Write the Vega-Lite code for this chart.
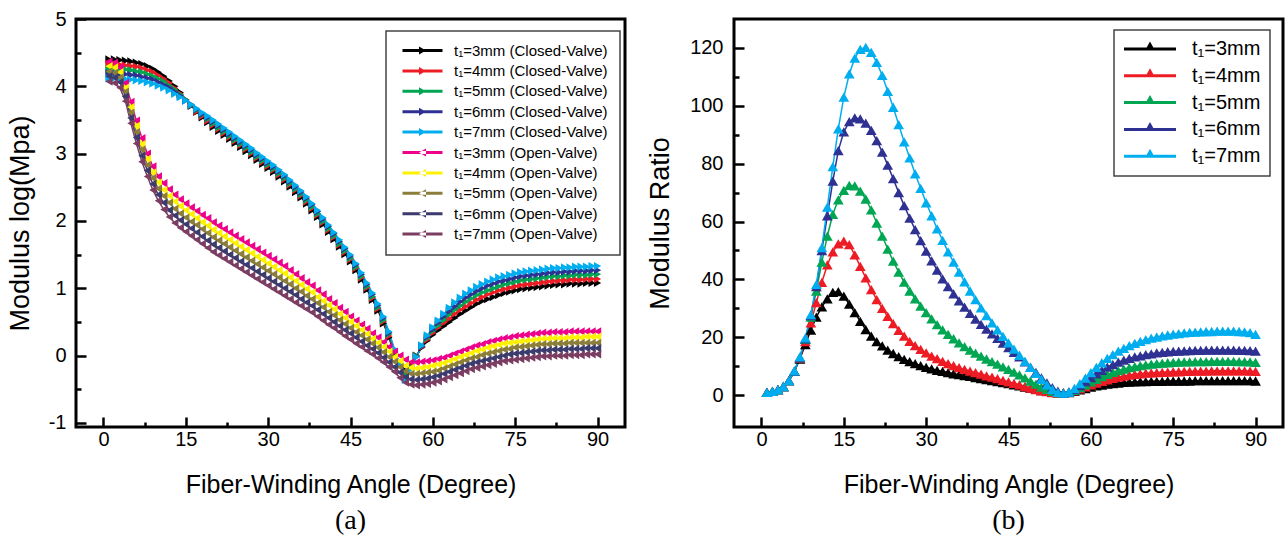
{
"$schema":"https://vega.github.io/schema/vega-lite/v6.json",
"padding":{"left":4,"top":7,"right":0,"bottom":0},
"spacing":18,
"resolve":{"scale":{"color":"independent","stroke":"independent","shape":"independent"},"legend":{"color":"independent","stroke":"independent","shape":"independent"}},
"config":{
 "view":{"stroke":"black","strokeWidth":3},
 "font":"Liberation Sans",
 "axis":{"domain":false,"grid":false,"labelColor":"black","titleColor":"black","tickColor":"black","tickWidth":2.5,"labelFont":"Liberation Sans","titleFont":"Liberation Sans","labelFontSize":20,"titleFontWeight":"normal","labelFlush":false,"labelOverlap":false},
 "title":{"font":"Liberation Serif","fontSize":28,"fontWeight":"normal","color":"black"}
},
"datasets":{
"a":[
{"x":1,"s":"c3","y":4.40},{"x":2,"s":"c3","y":4.40},{"x":3,"s":"c3","y":4.39},{"x":4,"s":"c3","y":4.38},{"x":5,"s":"c3","y":4.37},{"x":6,"s":"c3","y":4.35},{"x":7,"s":"c3","y":4.33},{"x":8,"s":"c3","y":4.30},{"x":9,"s":"c3","y":4.26},{"x":10,"s":"c3","y":4.21},
{"x":11,"s":"c3","y":4.15},{"x":12,"s":"c3","y":4.08},{"x":13,"s":"c3","y":4.00},{"x":14,"s":"c3","y":3.91},{"x":15,"s":"c3","y":3.80},{"x":16,"s":"c3","y":3.71},{"x":17,"s":"c3","y":3.62},{"x":18,"s":"c3","y":3.54},{"x":19,"s":"c3","y":3.47},{"x":20,"s":"c3","y":3.40},
{"x":21,"s":"c3","y":3.34},{"x":22,"s":"c3","y":3.28},{"x":23,"s":"c3","y":3.22},{"x":24,"s":"c3","y":3.16},{"x":25,"s":"c3","y":3.10},{"x":26,"s":"c3","y":3.04},{"x":27,"s":"c3","y":2.98},{"x":28,"s":"c3","y":2.91},{"x":29,"s":"c3","y":2.85},{"x":30,"s":"c3","y":2.79},
{"x":31,"s":"c3","y":2.73},{"x":32,"s":"c3","y":2.66},{"x":33,"s":"c3","y":2.59},{"x":34,"s":"c3","y":2.51},{"x":35,"s":"c3","y":2.43},{"x":36,"s":"c3","y":2.35},{"x":37,"s":"c3","y":2.26},{"x":38,"s":"c3","y":2.16},{"x":39,"s":"c3","y":2.06},{"x":40,"s":"c3","y":1.95},
{"x":41,"s":"c3","y":1.84},{"x":42,"s":"c3","y":1.73},{"x":43,"s":"c3","y":1.62},{"x":44,"s":"c3","y":1.51},{"x":45,"s":"c3","y":1.40},{"x":46,"s":"c3","y":1.27},{"x":47,"s":"c3","y":1.13},{"x":48,"s":"c3","y":0.98},{"x":49,"s":"c3","y":0.83},{"x":50,"s":"c3","y":0.67},
{"x":51,"s":"c3","y":0.48},{"x":52,"s":"c3","y":0.27},{"x":53,"s":"c3","y":0.03},{"x":54,"s":"c3","y":-0.14},{"x":55,"s":"c3","y":-0.22},{"x":56,"s":"c3","y":-0.16},{"x":57,"s":"c3","y":0.00},{"x":58,"s":"c3","y":0.12},{"x":59,"s":"c3","y":0.22},{"x":60,"s":"c3","y":0.31},
{"x":61,"s":"c3","y":0.38},{"x":62,"s":"c3","y":0.44},{"x":63,"s":"c3","y":0.50},{"x":64,"s":"c3","y":0.56},{"x":65,"s":"c3","y":0.62},{"x":66,"s":"c3","y":0.67},{"x":67,"s":"c3","y":0.72},{"x":68,"s":"c3","y":0.77},{"x":69,"s":"c3","y":0.81},{"x":70,"s":"c3","y":0.84},
{"x":71,"s":"c3","y":0.87},{"x":72,"s":"c3","y":0.90},{"x":73,"s":"c3","y":0.93},{"x":74,"s":"c3","y":0.95},{"x":75,"s":"c3","y":0.97},{"x":76,"s":"c3","y":0.99},{"x":77,"s":"c3","y":1.00},{"x":78,"s":"c3","y":1.01},{"x":79,"s":"c3","y":1.02},{"x":80,"s":"c3","y":1.03},
{"x":81,"s":"c3","y":1.04},{"x":82,"s":"c3","y":1.05},{"x":83,"s":"c3","y":1.06},{"x":84,"s":"c3","y":1.06},{"x":85,"s":"c3","y":1.07},{"x":86,"s":"c3","y":1.07},{"x":87,"s":"c3","y":1.07},{"x":88,"s":"c3","y":1.08},{"x":89,"s":"c3","y":1.08},{"x":90,"s":"c3","y":1.08},
{"x":1,"s":"c4","y":4.33},{"x":2,"s":"c4","y":4.33},{"x":3,"s":"c4","y":4.32},{"x":4,"s":"c4","y":4.31},{"x":5,"s":"c4","y":4.30},{"x":6,"s":"c4","y":4.29},{"x":7,"s":"c4","y":4.27},{"x":8,"s":"c4","y":4.24},{"x":9,"s":"c4","y":4.21},{"x":10,"s":"c4","y":4.16},
{"x":11,"s":"c4","y":4.11},{"x":12,"s":"c4","y":4.05},{"x":13,"s":"c4","y":3.97},{"x":14,"s":"c4","y":3.89},{"x":15,"s":"c4","y":3.80},{"x":16,"s":"c4","y":3.72},{"x":17,"s":"c4","y":3.63},{"x":18,"s":"c4","y":3.56},{"x":19,"s":"c4","y":3.49},{"x":20,"s":"c4","y":3.43},
{"x":21,"s":"c4","y":3.37},{"x":22,"s":"c4","y":3.31},{"x":23,"s":"c4","y":3.25},{"x":24,"s":"c4","y":3.19},{"x":25,"s":"c4","y":3.13},{"x":26,"s":"c4","y":3.07},{"x":27,"s":"c4","y":3.01},{"x":28,"s":"c4","y":2.94},{"x":29,"s":"c4","y":2.88},{"x":30,"s":"c4","y":2.82},
{"x":31,"s":"c4","y":2.76},{"x":32,"s":"c4","y":2.69},{"x":33,"s":"c4","y":2.62},{"x":34,"s":"c4","y":2.54},{"x":35,"s":"c4","y":2.46},{"x":36,"s":"c4","y":2.38},{"x":37,"s":"c4","y":2.29},{"x":38,"s":"c4","y":2.19},{"x":39,"s":"c4","y":2.09},{"x":40,"s":"c4","y":1.98},
{"x":41,"s":"c4","y":1.87},{"x":42,"s":"c4","y":1.76},{"x":43,"s":"c4","y":1.65},{"x":44,"s":"c4","y":1.54},{"x":45,"s":"c4","y":1.43},{"x":46,"s":"c4","y":1.30},{"x":47,"s":"c4","y":1.16},{"x":48,"s":"c4","y":1.01},{"x":49,"s":"c4","y":0.86},{"x":50,"s":"c4","y":0.70},
{"x":51,"s":"c4","y":0.51},{"x":52,"s":"c4","y":0.29},{"x":53,"s":"c4","y":0.05},{"x":54,"s":"c4","y":-0.14},{"x":55,"s":"c4","y":-0.26},{"x":56,"s":"c4","y":-0.17},{"x":57,"s":"c4","y":-0.01},{"x":58,"s":"c4","y":0.13},{"x":59,"s":"c4","y":0.24},{"x":60,"s":"c4","y":0.34},
{"x":61,"s":"c4","y":0.42},{"x":62,"s":"c4","y":0.49},{"x":63,"s":"c4","y":0.55},{"x":64,"s":"c4","y":0.62},{"x":65,"s":"c4","y":0.68},{"x":66,"s":"c4","y":0.73},{"x":67,"s":"c4","y":0.78},{"x":68,"s":"c4","y":0.83},{"x":69,"s":"c4","y":0.87},{"x":70,"s":"c4","y":0.91},
{"x":71,"s":"c4","y":0.94},{"x":72,"s":"c4","y":0.97},{"x":73,"s":"c4","y":0.99},{"x":74,"s":"c4","y":1.01},{"x":75,"s":"c4","y":1.03},{"x":76,"s":"c4","y":1.05},{"x":77,"s":"c4","y":1.06},{"x":78,"s":"c4","y":1.07},{"x":79,"s":"c4","y":1.08},{"x":80,"s":"c4","y":1.09},
{"x":81,"s":"c4","y":1.10},{"x":82,"s":"c4","y":1.11},{"x":83,"s":"c4","y":1.12},{"x":84,"s":"c4","y":1.12},{"x":85,"s":"c4","y":1.13},{"x":86,"s":"c4","y":1.13},{"x":87,"s":"c4","y":1.13},{"x":88,"s":"c4","y":1.14},{"x":89,"s":"c4","y":1.14},{"x":90,"s":"c4","y":1.14},
{"x":1,"s":"c5","y":4.26},{"x":2,"s":"c5","y":4.26},{"x":3,"s":"c5","y":4.25},{"x":4,"s":"c5","y":4.25},{"x":5,"s":"c5","y":4.24},{"x":6,"s":"c5","y":4.22},{"x":7,"s":"c5","y":4.21},{"x":8,"s":"c5","y":4.18},{"x":9,"s":"c5","y":4.15},{"x":10,"s":"c5","y":4.11},
{"x":11,"s":"c5","y":4.07},{"x":12,"s":"c5","y":4.01},{"x":13,"s":"c5","y":3.95},{"x":14,"s":"c5","y":3.88},{"x":15,"s":"c5","y":3.80},{"x":16,"s":"c5","y":3.72},{"x":17,"s":"c5","y":3.65},{"x":18,"s":"c5","y":3.58},{"x":19,"s":"c5","y":3.52},{"x":20,"s":"c5","y":3.45},
{"x":21,"s":"c5","y":3.39},{"x":22,"s":"c5","y":3.33},{"x":23,"s":"c5","y":3.27},{"x":24,"s":"c5","y":3.21},{"x":25,"s":"c5","y":3.15},{"x":26,"s":"c5","y":3.09},{"x":27,"s":"c5","y":3.03},{"x":28,"s":"c5","y":2.96},{"x":29,"s":"c5","y":2.90},{"x":30,"s":"c5","y":2.84},
{"x":31,"s":"c5","y":2.78},{"x":32,"s":"c5","y":2.71},{"x":33,"s":"c5","y":2.64},{"x":34,"s":"c5","y":2.56},{"x":35,"s":"c5","y":2.48},{"x":36,"s":"c5","y":2.40},{"x":37,"s":"c5","y":2.31},{"x":38,"s":"c5","y":2.21},{"x":39,"s":"c5","y":2.11},{"x":40,"s":"c5","y":2.00},
{"x":41,"s":"c5","y":1.89},{"x":42,"s":"c5","y":1.78},{"x":43,"s":"c5","y":1.67},{"x":44,"s":"c5","y":1.56},{"x":45,"s":"c5","y":1.45},{"x":46,"s":"c5","y":1.32},{"x":47,"s":"c5","y":1.18},{"x":48,"s":"c5","y":1.03},{"x":49,"s":"c5","y":0.88},{"x":50,"s":"c5","y":0.72},
{"x":51,"s":"c5","y":0.53},{"x":52,"s":"c5","y":0.32},{"x":53,"s":"c5","y":0.07},{"x":54,"s":"c5","y":-0.14},{"x":55,"s":"c5","y":-0.29},{"x":56,"s":"c5","y":-0.18},{"x":57,"s":"c5","y":-0.01},{"x":58,"s":"c5","y":0.14},{"x":59,"s":"c5","y":0.26},{"x":60,"s":"c5","y":0.37},
{"x":61,"s":"c5","y":0.45},{"x":62,"s":"c5","y":0.53},{"x":63,"s":"c5","y":0.61},{"x":64,"s":"c5","y":0.68},{"x":65,"s":"c5","y":0.74},{"x":66,"s":"c5","y":0.80},{"x":67,"s":"c5","y":0.85},{"x":68,"s":"c5","y":0.90},{"x":69,"s":"c5","y":0.94},{"x":70,"s":"c5","y":0.97},
{"x":71,"s":"c5","y":1.00},{"x":72,"s":"c5","y":1.03},{"x":73,"s":"c5","y":1.06},{"x":74,"s":"c5","y":1.08},{"x":75,"s":"c5","y":1.10},{"x":76,"s":"c5","y":1.12},{"x":77,"s":"c5","y":1.13},{"x":78,"s":"c5","y":1.14},{"x":79,"s":"c5","y":1.15},{"x":80,"s":"c5","y":1.16},
{"x":81,"s":"c5","y":1.17},{"x":82,"s":"c5","y":1.18},{"x":83,"s":"c5","y":1.18},{"x":84,"s":"c5","y":1.19},{"x":85,"s":"c5","y":1.19},{"x":86,"s":"c5","y":1.20},{"x":87,"s":"c5","y":1.20},{"x":88,"s":"c5","y":1.20},{"x":89,"s":"c5","y":1.21},{"x":90,"s":"c5","y":1.21},
{"x":1,"s":"c6","y":4.19},{"x":2,"s":"c6","y":4.19},{"x":3,"s":"c6","y":4.18},{"x":4,"s":"c6","y":4.18},{"x":5,"s":"c6","y":4.17},{"x":6,"s":"c6","y":4.16},{"x":7,"s":"c6","y":4.14},{"x":8,"s":"c6","y":4.12},{"x":9,"s":"c6","y":4.10},{"x":10,"s":"c6","y":4.06},
{"x":11,"s":"c6","y":4.02},{"x":12,"s":"c6","y":3.98},{"x":13,"s":"c6","y":3.92},{"x":14,"s":"c6","y":3.86},{"x":15,"s":"c6","y":3.79},{"x":16,"s":"c6","y":3.73},{"x":17,"s":"c6","y":3.66},{"x":18,"s":"c6","y":3.59},{"x":19,"s":"c6","y":3.54},{"x":20,"s":"c6","y":3.48},
{"x":21,"s":"c6","y":3.42},{"x":22,"s":"c6","y":3.36},{"x":23,"s":"c6","y":3.30},{"x":24,"s":"c6","y":3.24},{"x":25,"s":"c6","y":3.18},{"x":26,"s":"c6","y":3.12},{"x":27,"s":"c6","y":3.06},{"x":28,"s":"c6","y":2.99},{"x":29,"s":"c6","y":2.93},{"x":30,"s":"c6","y":2.87},
{"x":31,"s":"c6","y":2.81},{"x":32,"s":"c6","y":2.74},{"x":33,"s":"c6","y":2.67},{"x":34,"s":"c6","y":2.59},{"x":35,"s":"c6","y":2.51},{"x":36,"s":"c6","y":2.43},{"x":37,"s":"c6","y":2.34},{"x":38,"s":"c6","y":2.24},{"x":39,"s":"c6","y":2.14},{"x":40,"s":"c6","y":2.03},
{"x":41,"s":"c6","y":1.92},{"x":42,"s":"c6","y":1.81},{"x":43,"s":"c6","y":1.70},{"x":44,"s":"c6","y":1.59},{"x":45,"s":"c6","y":1.48},{"x":46,"s":"c6","y":1.35},{"x":47,"s":"c6","y":1.21},{"x":48,"s":"c6","y":1.06},{"x":49,"s":"c6","y":0.91},{"x":50,"s":"c6","y":0.75},
{"x":51,"s":"c6","y":0.56},{"x":52,"s":"c6","y":0.34},{"x":53,"s":"c6","y":0.08},{"x":54,"s":"c6","y":-0.14},{"x":55,"s":"c6","y":-0.33},{"x":56,"s":"c6","y":-0.19},{"x":57,"s":"c6","y":-0.02},{"x":58,"s":"c6","y":0.14},{"x":59,"s":"c6","y":0.28},{"x":60,"s":"c6","y":0.39},
{"x":61,"s":"c6","y":0.49},{"x":62,"s":"c6","y":0.58},{"x":63,"s":"c6","y":0.66},{"x":64,"s":"c6","y":0.73},{"x":65,"s":"c6","y":0.80},{"x":66,"s":"c6","y":0.86},{"x":67,"s":"c6","y":0.91},{"x":68,"s":"c6","y":0.96},{"x":69,"s":"c6","y":1.00},{"x":70,"s":"c6","y":1.04},
{"x":71,"s":"c6","y":1.07},{"x":72,"s":"c6","y":1.10},{"x":73,"s":"c6","y":1.12},{"x":74,"s":"c6","y":1.14},{"x":75,"s":"c6","y":1.16},{"x":76,"s":"c6","y":1.18},{"x":77,"s":"c6","y":1.19},{"x":78,"s":"c6","y":1.20},{"x":79,"s":"c6","y":1.21},{"x":80,"s":"c6","y":1.22},
{"x":81,"s":"c6","y":1.23},{"x":82,"s":"c6","y":1.24},{"x":83,"s":"c6","y":1.24},{"x":84,"s":"c6","y":1.25},{"x":85,"s":"c6","y":1.25},{"x":86,"s":"c6","y":1.26},{"x":87,"s":"c6","y":1.26},{"x":88,"s":"c6","y":1.26},{"x":89,"s":"c6","y":1.27},{"x":90,"s":"c6","y":1.27},
{"x":1,"s":"c7","y":4.12},{"x":2,"s":"c7","y":4.12},{"x":3,"s":"c7","y":4.11},{"x":4,"s":"c7","y":4.11},{"x":5,"s":"c7","y":4.10},{"x":6,"s":"c7","y":4.09},{"x":7,"s":"c7","y":4.08},{"x":8,"s":"c7","y":4.06},{"x":9,"s":"c7","y":4.04},{"x":10,"s":"c7","y":4.01},
{"x":11,"s":"c7","y":3.98},{"x":12,"s":"c7","y":3.94},{"x":13,"s":"c7","y":3.89},{"x":14,"s":"c7","y":3.84},{"x":15,"s":"c7","y":3.79},{"x":16,"s":"c7","y":3.73},{"x":17,"s":"c7","y":3.67},{"x":18,"s":"c7","y":3.61},{"x":19,"s":"c7","y":3.56},{"x":20,"s":"c7","y":3.50},
{"x":21,"s":"c7","y":3.44},{"x":22,"s":"c7","y":3.38},{"x":23,"s":"c7","y":3.32},{"x":24,"s":"c7","y":3.26},{"x":25,"s":"c7","y":3.20},{"x":26,"s":"c7","y":3.14},{"x":27,"s":"c7","y":3.08},{"x":28,"s":"c7","y":3.01},{"x":29,"s":"c7","y":2.95},{"x":30,"s":"c7","y":2.89},
{"x":31,"s":"c7","y":2.83},{"x":32,"s":"c7","y":2.76},{"x":33,"s":"c7","y":2.69},{"x":34,"s":"c7","y":2.61},{"x":35,"s":"c7","y":2.53},{"x":36,"s":"c7","y":2.45},{"x":37,"s":"c7","y":2.36},{"x":38,"s":"c7","y":2.26},{"x":39,"s":"c7","y":2.16},{"x":40,"s":"c7","y":2.05},
{"x":41,"s":"c7","y":1.94},{"x":42,"s":"c7","y":1.83},{"x":43,"s":"c7","y":1.72},{"x":44,"s":"c7","y":1.61},{"x":45,"s":"c7","y":1.50},{"x":46,"s":"c7","y":1.37},{"x":47,"s":"c7","y":1.23},{"x":48,"s":"c7","y":1.08},{"x":49,"s":"c7","y":0.93},{"x":50,"s":"c7","y":0.77},
{"x":51,"s":"c7","y":0.58},{"x":52,"s":"c7","y":0.36},{"x":53,"s":"c7","y":0.10},{"x":54,"s":"c7","y":-0.14},{"x":55,"s":"c7","y":-0.36},{"x":56,"s":"c7","y":-0.20},{"x":57,"s":"c7","y":-0.02},{"x":58,"s":"c7","y":0.15},{"x":59,"s":"c7","y":0.30},{"x":60,"s":"c7","y":0.42},
{"x":61,"s":"c7","y":0.52},{"x":62,"s":"c7","y":0.62},{"x":63,"s":"c7","y":0.71},{"x":64,"s":"c7","y":0.79},{"x":65,"s":"c7","y":0.86},{"x":66,"s":"c7","y":0.92},{"x":67,"s":"c7","y":0.97},{"x":68,"s":"c7","y":1.02},{"x":69,"s":"c7","y":1.06},{"x":70,"s":"c7","y":1.10},
{"x":71,"s":"c7","y":1.13},{"x":72,"s":"c7","y":1.16},{"x":73,"s":"c7","y":1.18},{"x":74,"s":"c7","y":1.20},{"x":75,"s":"c7","y":1.22},{"x":76,"s":"c7","y":1.24},{"x":77,"s":"c7","y":1.25},{"x":78,"s":"c7","y":1.26},{"x":79,"s":"c7","y":1.27},{"x":80,"s":"c7","y":1.28},
{"x":81,"s":"c7","y":1.29},{"x":82,"s":"c7","y":1.30},{"x":83,"s":"c7","y":1.30},{"x":84,"s":"c7","y":1.31},{"x":85,"s":"c7","y":1.31},{"x":86,"s":"c7","y":1.32},{"x":87,"s":"c7","y":1.32},{"x":88,"s":"c7","y":1.32},{"x":89,"s":"c7","y":1.33},{"x":90,"s":"c7","y":1.33},
{"x":1,"s":"o3","y":4.37},{"x":2,"s":"o3","y":4.35},{"x":3,"s":"o3","y":4.28},{"x":4,"s":"o3","y":4.05},{"x":5,"s":"o3","y":3.77},{"x":6,"s":"o3","y":3.49},{"x":7,"s":"o3","y":3.23},{"x":8,"s":"o3","y":3.00},{"x":9,"s":"o3","y":2.81},{"x":10,"s":"o3","y":2.66},
{"x":11,"s":"o3","y":2.56},{"x":12,"s":"o3","y":2.47},{"x":13,"s":"o3","y":2.39},{"x":14,"s":"o3","y":2.32},{"x":15,"s":"o3","y":2.26},{"x":16,"s":"o3","y":2.20},{"x":17,"s":"o3","y":2.15},{"x":18,"s":"o3","y":2.09},{"x":19,"s":"o3","y":2.04},{"x":20,"s":"o3","y":1.98},
{"x":21,"s":"o3","y":1.93},{"x":22,"s":"o3","y":1.88},{"x":23,"s":"o3","y":1.83},{"x":24,"s":"o3","y":1.78},{"x":25,"s":"o3","y":1.73},{"x":26,"s":"o3","y":1.68},{"x":27,"s":"o3","y":1.63},{"x":28,"s":"o3","y":1.58},{"x":29,"s":"o3","y":1.53},{"x":30,"s":"o3","y":1.48},
{"x":31,"s":"o3","y":1.43},{"x":32,"s":"o3","y":1.38},{"x":33,"s":"o3","y":1.33},{"x":34,"s":"o3","y":1.27},{"x":35,"s":"o3","y":1.21},{"x":36,"s":"o3","y":1.15},{"x":37,"s":"o3","y":1.09},{"x":38,"s":"o3","y":1.04},{"x":39,"s":"o3","y":0.97},{"x":40,"s":"o3","y":0.91},
{"x":41,"s":"o3","y":0.84},{"x":42,"s":"o3","y":0.78},{"x":43,"s":"o3","y":0.71},{"x":44,"s":"o3","y":0.65},{"x":45,"s":"o3","y":0.58},{"x":46,"s":"o3","y":0.52},{"x":47,"s":"o3","y":0.46},{"x":48,"s":"o3","y":0.40},{"x":49,"s":"o3","y":0.33},{"x":50,"s":"o3","y":0.27},
{"x":51,"s":"o3","y":0.20},{"x":52,"s":"o3","y":0.13},{"x":53,"s":"o3","y":0.06},{"x":54,"s":"o3","y":0.00},{"x":55,"s":"o3","y":-0.06},{"x":56,"s":"o3","y":-0.10},{"x":57,"s":"o3","y":-0.10},{"x":58,"s":"o3","y":-0.09},{"x":59,"s":"o3","y":-0.08},{"x":60,"s":"o3","y":-0.07},
{"x":61,"s":"o3","y":-0.05},{"x":62,"s":"o3","y":-0.03},{"x":63,"s":"o3","y":0.00},{"x":64,"s":"o3","y":0.03},{"x":65,"s":"o3","y":0.06},{"x":66,"s":"o3","y":0.09},{"x":67,"s":"o3","y":0.12},{"x":68,"s":"o3","y":0.15},{"x":69,"s":"o3","y":0.17},{"x":70,"s":"o3","y":0.20},
{"x":71,"s":"o3","y":0.22},{"x":72,"s":"o3","y":0.24},{"x":73,"s":"o3","y":0.26},{"x":74,"s":"o3","y":0.27},{"x":75,"s":"o3","y":0.29},{"x":76,"s":"o3","y":0.30},{"x":77,"s":"o3","y":0.31},{"x":78,"s":"o3","y":0.32},{"x":79,"s":"o3","y":0.33},{"x":80,"s":"o3","y":0.34},
{"x":81,"s":"o3","y":0.34},{"x":82,"s":"o3","y":0.35},{"x":83,"s":"o3","y":0.35},{"x":84,"s":"o3","y":0.35},{"x":85,"s":"o3","y":0.36},{"x":86,"s":"o3","y":0.36},{"x":87,"s":"o3","y":0.36},{"x":88,"s":"o3","y":0.36},{"x":89,"s":"o3","y":0.36},{"x":90,"s":"o3","y":0.36},
{"x":1,"s":"o4","y":4.30},{"x":2,"s":"o4","y":4.28},{"x":3,"s":"o4","y":4.21},{"x":4,"s":"o4","y":3.98},{"x":5,"s":"o4","y":3.69},{"x":6,"s":"o4","y":3.41},{"x":7,"s":"o4","y":3.14},{"x":8,"s":"o4","y":2.92},{"x":9,"s":"o4","y":2.72},{"x":10,"s":"o4","y":2.57},
{"x":11,"s":"o4","y":2.46},{"x":12,"s":"o4","y":2.37},{"x":13,"s":"o4","y":2.29},{"x":14,"s":"o4","y":2.22},{"x":15,"s":"o4","y":2.16},{"x":16,"s":"o4","y":2.10},{"x":17,"s":"o4","y":2.04},{"x":18,"s":"o4","y":1.98},{"x":19,"s":"o4","y":1.93},{"x":20,"s":"o4","y":1.87},
{"x":21,"s":"o4","y":1.82},{"x":22,"s":"o4","y":1.77},{"x":23,"s":"o4","y":1.72},{"x":24,"s":"o4","y":1.67},{"x":25,"s":"o4","y":1.62},{"x":26,"s":"o4","y":1.57},{"x":27,"s":"o4","y":1.52},{"x":28,"s":"o4","y":1.47},{"x":29,"s":"o4","y":1.42},{"x":30,"s":"o4","y":1.37},
{"x":31,"s":"o4","y":1.32},{"x":32,"s":"o4","y":1.27},{"x":33,"s":"o4","y":1.22},{"x":34,"s":"o4","y":1.16},{"x":35,"s":"o4","y":1.11},{"x":36,"s":"o4","y":1.05},{"x":37,"s":"o4","y":0.99},{"x":38,"s":"o4","y":0.94},{"x":39,"s":"o4","y":0.87},{"x":40,"s":"o4","y":0.81},
{"x":41,"s":"o4","y":0.75},{"x":42,"s":"o4","y":0.69},{"x":43,"s":"o4","y":0.62},{"x":44,"s":"o4","y":0.56},{"x":45,"s":"o4","y":0.50},{"x":46,"s":"o4","y":0.44},{"x":47,"s":"o4","y":0.38},{"x":48,"s":"o4","y":0.32},{"x":49,"s":"o4","y":0.25},{"x":50,"s":"o4","y":0.19},
{"x":51,"s":"o4","y":0.13},{"x":52,"s":"o4","y":0.06},{"x":53,"s":"o4","y":-0.02},{"x":54,"s":"o4","y":-0.08},{"x":55,"s":"o4","y":-0.15},{"x":56,"s":"o4","y":-0.18},{"x":57,"s":"o4","y":-0.19},{"x":58,"s":"o4","y":-0.18},{"x":59,"s":"o4","y":-0.17},{"x":60,"s":"o4","y":-0.15},
{"x":61,"s":"o4","y":-0.13},{"x":62,"s":"o4","y":-0.11},{"x":63,"s":"o4","y":-0.08},{"x":64,"s":"o4","y":-0.05},{"x":65,"s":"o4","y":-0.02},{"x":66,"s":"o4","y":0.01},{"x":67,"s":"o4","y":0.04},{"x":68,"s":"o4","y":0.07},{"x":69,"s":"o4","y":0.09},{"x":70,"s":"o4","y":0.12},
{"x":71,"s":"o4","y":0.14},{"x":72,"s":"o4","y":0.16},{"x":73,"s":"o4","y":0.18},{"x":74,"s":"o4","y":0.19},{"x":75,"s":"o4","y":0.20},{"x":76,"s":"o4","y":0.21},{"x":77,"s":"o4","y":0.22},{"x":78,"s":"o4","y":0.23},{"x":79,"s":"o4","y":0.24},{"x":80,"s":"o4","y":0.25},
{"x":81,"s":"o4","y":0.25},{"x":82,"s":"o4","y":0.26},{"x":83,"s":"o4","y":0.26},{"x":84,"s":"o4","y":0.26},{"x":85,"s":"o4","y":0.27},{"x":86,"s":"o4","y":0.27},{"x":87,"s":"o4","y":0.27},{"x":88,"s":"o4","y":0.28},{"x":89,"s":"o4","y":0.28},{"x":90,"s":"o4","y":0.28},
{"x":1,"s":"o5","y":4.22},{"x":2,"s":"o5","y":4.20},{"x":3,"s":"o5","y":4.13},{"x":4,"s":"o5","y":3.92},{"x":5,"s":"o5","y":3.61},{"x":6,"s":"o5","y":3.32},{"x":7,"s":"o5","y":3.06},{"x":8,"s":"o5","y":2.83},{"x":9,"s":"o5","y":2.64},{"x":10,"s":"o5","y":2.48},
{"x":11,"s":"o5","y":2.37},{"x":12,"s":"o5","y":2.27},{"x":13,"s":"o5","y":2.18},{"x":14,"s":"o5","y":2.11},{"x":15,"s":"o5","y":2.05},{"x":16,"s":"o5","y":1.99},{"x":17,"s":"o5","y":1.94},{"x":18,"s":"o5","y":1.88},{"x":19,"s":"o5","y":1.82},{"x":20,"s":"o5","y":1.76},
{"x":21,"s":"o5","y":1.71},{"x":22,"s":"o5","y":1.66},{"x":23,"s":"o5","y":1.61},{"x":24,"s":"o5","y":1.56},{"x":25,"s":"o5","y":1.51},{"x":26,"s":"o5","y":1.46},{"x":27,"s":"o5","y":1.41},{"x":28,"s":"o5","y":1.36},{"x":29,"s":"o5","y":1.31},{"x":30,"s":"o5","y":1.26},
{"x":31,"s":"o5","y":1.21},{"x":32,"s":"o5","y":1.16},{"x":33,"s":"o5","y":1.11},{"x":34,"s":"o5","y":1.06},{"x":35,"s":"o5","y":1.00},{"x":36,"s":"o5","y":0.95},{"x":37,"s":"o5","y":0.89},{"x":38,"s":"o5","y":0.84},{"x":39,"s":"o5","y":0.78},{"x":40,"s":"o5","y":0.72},
{"x":41,"s":"o5","y":0.65},{"x":42,"s":"o5","y":0.60},{"x":43,"s":"o5","y":0.53},{"x":44,"s":"o5","y":0.47},{"x":45,"s":"o5","y":0.41},{"x":46,"s":"o5","y":0.35},{"x":47,"s":"o5","y":0.30},{"x":48,"s":"o5","y":0.24},{"x":49,"s":"o5","y":0.18},{"x":50,"s":"o5","y":0.12},
{"x":51,"s":"o5","y":0.05},{"x":52,"s":"o5","y":-0.02},{"x":53,"s":"o5","y":-0.09},{"x":54,"s":"o5","y":-0.17},{"x":55,"s":"o5","y":-0.23},{"x":56,"s":"o5","y":-0.27},{"x":57,"s":"o5","y":-0.27},{"x":58,"s":"o5","y":-0.26},{"x":59,"s":"o5","y":-0.25},{"x":60,"s":"o5","y":-0.24},
{"x":61,"s":"o5","y":-0.22},{"x":62,"s":"o5","y":-0.19},{"x":63,"s":"o5","y":-0.16},{"x":64,"s":"o5","y":-0.13},{"x":65,"s":"o5","y":-0.10},{"x":66,"s":"o5","y":-0.07},{"x":67,"s":"o5","y":-0.04},{"x":68,"s":"o5","y":-0.02},{"x":69,"s":"o5","y":0.01},{"x":70,"s":"o5","y":0.03},
{"x":71,"s":"o5","y":0.05},{"x":72,"s":"o5","y":0.07},{"x":73,"s":"o5","y":0.09},{"x":74,"s":"o5","y":0.10},{"x":75,"s":"o5","y":0.12},{"x":76,"s":"o5","y":0.13},{"x":77,"s":"o5","y":0.14},{"x":78,"s":"o5","y":0.15},{"x":79,"s":"o5","y":0.16},{"x":80,"s":"o5","y":0.17},
{"x":81,"s":"o5","y":0.17},{"x":82,"s":"o5","y":0.18},{"x":83,"s":"o5","y":0.18},{"x":84,"s":"o5","y":0.18},{"x":85,"s":"o5","y":0.19},{"x":86,"s":"o5","y":0.19},{"x":87,"s":"o5","y":0.19},{"x":88,"s":"o5","y":0.19},{"x":89,"s":"o5","y":0.19},{"x":90,"s":"o5","y":0.19},
{"x":1,"s":"o6","y":4.15},{"x":2,"s":"o6","y":4.13},{"x":3,"s":"o6","y":4.06},{"x":4,"s":"o6","y":3.85},{"x":5,"s":"o6","y":3.53},{"x":6,"s":"o6","y":3.24},{"x":7,"s":"o6","y":2.97},{"x":8,"s":"o6","y":2.75},{"x":9,"s":"o6","y":2.55},{"x":10,"s":"o6","y":2.39},
{"x":11,"s":"o6","y":2.27},{"x":12,"s":"o6","y":2.16},{"x":13,"s":"o6","y":2.08},{"x":14,"s":"o6","y":2.01},{"x":15,"s":"o6","y":1.95},{"x":16,"s":"o6","y":1.89},{"x":17,"s":"o6","y":1.83},{"x":18,"s":"o6","y":1.77},{"x":19,"s":"o6","y":1.71},{"x":20,"s":"o6","y":1.65},
{"x":21,"s":"o6","y":1.60},{"x":22,"s":"o6","y":1.55},{"x":23,"s":"o6","y":1.50},{"x":24,"s":"o6","y":1.45},{"x":25,"s":"o6","y":1.40},{"x":26,"s":"o6","y":1.35},{"x":27,"s":"o6","y":1.30},{"x":28,"s":"o6","y":1.25},{"x":29,"s":"o6","y":1.20},{"x":30,"s":"o6","y":1.15},
{"x":31,"s":"o6","y":1.10},{"x":32,"s":"o6","y":1.05},{"x":33,"s":"o6","y":1.00},{"x":34,"s":"o6","y":0.95},{"x":35,"s":"o6","y":0.90},{"x":36,"s":"o6","y":0.84},{"x":37,"s":"o6","y":0.79},{"x":38,"s":"o6","y":0.74},{"x":39,"s":"o6","y":0.68},{"x":40,"s":"o6","y":0.62},
{"x":41,"s":"o6","y":0.56},{"x":42,"s":"o6","y":0.50},{"x":43,"s":"o6","y":0.44},{"x":44,"s":"o6","y":0.38},{"x":45,"s":"o6","y":0.33},{"x":46,"s":"o6","y":0.27},{"x":47,"s":"o6","y":0.21},{"x":48,"s":"o6","y":0.15},{"x":49,"s":"o6","y":0.10},{"x":50,"s":"o6","y":0.04},
{"x":51,"s":"o6","y":-0.03},{"x":52,"s":"o6","y":-0.10},{"x":53,"s":"o6","y":-0.17},{"x":54,"s":"o6","y":-0.25},{"x":55,"s":"o6","y":-0.32},{"x":56,"s":"o6","y":-0.35},{"x":57,"s":"o6","y":-0.36},{"x":58,"s":"o6","y":-0.35},{"x":59,"s":"o6","y":-0.34},{"x":60,"s":"o6","y":-0.32},
{"x":61,"s":"o6","y":-0.30},{"x":62,"s":"o6","y":-0.27},{"x":63,"s":"o6","y":-0.24},{"x":64,"s":"o6","y":-0.21},{"x":65,"s":"o6","y":-0.18},{"x":66,"s":"o6","y":-0.15},{"x":67,"s":"o6","y":-0.12},{"x":68,"s":"o6","y":-0.10},{"x":69,"s":"o6","y":-0.08},{"x":70,"s":"o6","y":-0.06},
{"x":71,"s":"o6","y":-0.04},{"x":72,"s":"o6","y":-0.02},{"x":73,"s":"o6","y":0.00},{"x":74,"s":"o6","y":0.02},{"x":75,"s":"o6","y":0.03},{"x":76,"s":"o6","y":0.04},{"x":77,"s":"o6","y":0.05},{"x":78,"s":"o6","y":0.06},{"x":79,"s":"o6","y":0.07},{"x":80,"s":"o6","y":0.08},
{"x":81,"s":"o6","y":0.08},{"x":82,"s":"o6","y":0.09},{"x":83,"s":"o6","y":0.09},{"x":84,"s":"o6","y":0.09},{"x":85,"s":"o6","y":0.10},{"x":86,"s":"o6","y":0.10},{"x":87,"s":"o6","y":0.10},{"x":88,"s":"o6","y":0.11},{"x":89,"s":"o6","y":0.11},{"x":90,"s":"o6","y":0.11},
{"x":1,"s":"o7","y":4.07},{"x":2,"s":"o7","y":4.05},{"x":3,"s":"o7","y":3.98},{"x":4,"s":"o7","y":3.78},{"x":5,"s":"o7","y":3.45},{"x":6,"s":"o7","y":3.15},{"x":7,"s":"o7","y":2.88},{"x":8,"s":"o7","y":2.66},{"x":9,"s":"o7","y":2.46},{"x":10,"s":"o7","y":2.30},
{"x":11,"s":"o7","y":2.17},{"x":12,"s":"o7","y":2.06},{"x":13,"s":"o7","y":1.97},{"x":14,"s":"o7","y":1.90},{"x":15,"s":"o7","y":1.84},{"x":16,"s":"o7","y":1.78},{"x":17,"s":"o7","y":1.72},{"x":18,"s":"o7","y":1.66},{"x":19,"s":"o7","y":1.60},{"x":20,"s":"o7","y":1.54},
{"x":21,"s":"o7","y":1.49},{"x":22,"s":"o7","y":1.44},{"x":23,"s":"o7","y":1.39},{"x":24,"s":"o7","y":1.34},{"x":25,"s":"o7","y":1.29},{"x":26,"s":"o7","y":1.24},{"x":27,"s":"o7","y":1.19},{"x":28,"s":"o7","y":1.14},{"x":29,"s":"o7","y":1.09},{"x":30,"s":"o7","y":1.04},
{"x":31,"s":"o7","y":0.99},{"x":32,"s":"o7","y":0.94},{"x":33,"s":"o7","y":0.89},{"x":34,"s":"o7","y":0.84},{"x":35,"s":"o7","y":0.79},{"x":36,"s":"o7","y":0.74},{"x":37,"s":"o7","y":0.69},{"x":38,"s":"o7","y":0.64},{"x":39,"s":"o7","y":0.58},{"x":40,"s":"o7","y":0.52},
{"x":41,"s":"o7","y":0.46},{"x":42,"s":"o7","y":0.41},{"x":43,"s":"o7","y":0.35},{"x":44,"s":"o7","y":0.29},{"x":45,"s":"o7","y":0.24},{"x":46,"s":"o7","y":0.18},{"x":47,"s":"o7","y":0.13},{"x":48,"s":"o7","y":0.07},{"x":49,"s":"o7","y":0.02},{"x":50,"s":"o7","y":-0.04},
{"x":51,"s":"o7","y":-0.10},{"x":52,"s":"o7","y":-0.17},{"x":53,"s":"o7","y":-0.24},{"x":54,"s":"o7","y":-0.33},{"x":55,"s":"o7","y":-0.40},{"x":56,"s":"o7","y":-0.43},{"x":57,"s":"o7","y":-0.44},{"x":58,"s":"o7","y":-0.43},{"x":59,"s":"o7","y":-0.42},{"x":60,"s":"o7","y":-0.40},
{"x":61,"s":"o7","y":-0.38},{"x":62,"s":"o7","y":-0.35},{"x":63,"s":"o7","y":-0.32},{"x":64,"s":"o7","y":-0.29},{"x":65,"s":"o7","y":-0.26},{"x":66,"s":"o7","y":-0.23},{"x":67,"s":"o7","y":-0.20},{"x":68,"s":"o7","y":-0.18},{"x":69,"s":"o7","y":-0.16},{"x":70,"s":"o7","y":-0.14},
{"x":71,"s":"o7","y":-0.12},{"x":72,"s":"o7","y":-0.10},{"x":73,"s":"o7","y":-0.08},{"x":74,"s":"o7","y":-0.07},{"x":75,"s":"o7","y":-0.06},{"x":76,"s":"o7","y":-0.05},{"x":77,"s":"o7","y":-0.04},{"x":78,"s":"o7","y":-0.03},{"x":79,"s":"o7","y":-0.02},{"x":80,"s":"o7","y":-0.01},
{"x":81,"s":"o7","y":-0.01},{"x":82,"s":"o7","y":0.00},{"x":83,"s":"o7","y":0.00},{"x":84,"s":"o7","y":0.00},{"x":85,"s":"o7","y":0.01},{"x":86,"s":"o7","y":0.01},{"x":87,"s":"o7","y":0.01},{"x":88,"s":"o7","y":0.02},{"x":89,"s":"o7","y":0.02},{"x":90,"s":"o7","y":0.02}
],
"b":[
{"x":1,"s":"3","y":1.0},{"x":2,"s":"3","y":1.3},{"x":3,"s":"3","y":1.9},{"x":4,"s":"3","y":3.0},{"x":5,"s":"3","y":5.0},{"x":6,"s":"3","y":8.2},{"x":7,"s":"3","y":12.5},{"x":8,"s":"3","y":17.5},{"x":9,"s":"3","y":22.5},{"x":10,"s":"3","y":27},
{"x":11,"s":"3","y":30.5},{"x":12,"s":"3","y":33.3},{"x":13,"s":"3","y":35.5},{"x":14,"s":"3","y":35.8},{"x":15,"s":"3","y":34.2},{"x":16,"s":"3","y":31.5},{"x":17,"s":"3","y":28.5},{"x":18,"s":"3","y":25.5},{"x":19,"s":"3","y":22.7},{"x":20,"s":"3","y":20.4},
{"x":21,"s":"3","y":18.5},{"x":22,"s":"3","y":17.0},{"x":23,"s":"3","y":15.6},{"x":24,"s":"3","y":14.4},{"x":25,"s":"3","y":13.3},{"x":26,"s":"3","y":12.4},{"x":27,"s":"3","y":11.6},{"x":28,"s":"3","y":10.9},{"x":29,"s":"3","y":10.2},{"x":30,"s":"3","y":9.6},
{"x":31,"s":"3","y":9.1},{"x":32,"s":"3","y":8.6},{"x":33,"s":"3","y":8.2},{"x":34,"s":"3","y":7.8},{"x":35,"s":"3","y":7.4},{"x":36,"s":"3","y":7.1},{"x":37,"s":"3","y":6.8},{"x":38,"s":"3","y":6.5},{"x":39,"s":"3","y":6.1},{"x":40,"s":"3","y":5.7},
{"x":41,"s":"3","y":5.4},{"x":42,"s":"3","y":5.0},{"x":43,"s":"3","y":4.7},{"x":44,"s":"3","y":4.3},{"x":45,"s":"3","y":4.0},{"x":46,"s":"3","y":3.6},{"x":47,"s":"3","y":3.2},{"x":48,"s":"3","y":2.8},{"x":49,"s":"3","y":2.4},{"x":50,"s":"3","y":2.0},
{"x":51,"s":"3","y":1.6},{"x":52,"s":"3","y":1.3},{"x":53,"s":"3","y":1.0},{"x":54,"s":"3","y":0.8},{"x":55,"s":"3","y":0.8},{"x":56,"s":"3","y":0.9},{"x":57,"s":"3","y":1.3},{"x":58,"s":"3","y":1.8},{"x":59,"s":"3","y":2.3},{"x":60,"s":"3","y":2.8},
{"x":61,"s":"3","y":3.2},{"x":62,"s":"3","y":3.5},{"x":63,"s":"3","y":3.8},{"x":64,"s":"3","y":4.0},{"x":65,"s":"3","y":4.2},{"x":66,"s":"3","y":4.4},{"x":67,"s":"3","y":4.5},{"x":68,"s":"3","y":4.6},{"x":69,"s":"3","y":4.7},{"x":70,"s":"3","y":4.7},
{"x":71,"s":"3","y":4.8},{"x":72,"s":"3","y":4.8},{"x":73,"s":"3","y":4.8},{"x":74,"s":"3","y":4.9},{"x":75,"s":"3","y":4.9},{"x":76,"s":"3","y":4.9},{"x":77,"s":"3","y":4.9},{"x":78,"s":"3","y":4.9},{"x":79,"s":"3","y":5.0},{"x":80,"s":"3","y":5.0},
{"x":81,"s":"3","y":5.0},{"x":82,"s":"3","y":5.0},{"x":83,"s":"3","y":5.0},{"x":84,"s":"3","y":5.0},{"x":85,"s":"3","y":5.0},{"x":86,"s":"3","y":5.0},{"x":87,"s":"3","y":5.0},{"x":88,"s":"3","y":5.0},{"x":89,"s":"3","y":5.0},{"x":90,"s":"3","y":4.9},
{"x":1,"s":"4","y":1.0},{"x":2,"s":"4","y":1.3},{"x":3,"s":"4","y":1.9},{"x":4,"s":"4","y":3.0},{"x":5,"s":"4","y":5.0},{"x":6,"s":"4","y":8.2},{"x":7,"s":"4","y":12.8},{"x":8,"s":"4","y":18.5},{"x":9,"s":"4","y":25},{"x":10,"s":"4","y":32},
{"x":11,"s":"4","y":39},{"x":12,"s":"4","y":45},{"x":13,"s":"4","y":49.5},{"x":14,"s":"4","y":52.3},{"x":15,"s":"4","y":53.2},{"x":16,"s":"4","y":52},{"x":17,"s":"4","y":48.5},{"x":18,"s":"4","y":44.5},{"x":19,"s":"4","y":40.5},{"x":20,"s":"4","y":36.5},
{"x":21,"s":"4","y":33},{"x":22,"s":"4","y":30},{"x":23,"s":"4","y":27.2},{"x":24,"s":"4","y":24.7},{"x":25,"s":"4","y":22.4},{"x":26,"s":"4","y":20.4},{"x":27,"s":"4","y":18.6},{"x":28,"s":"4","y":17.1},{"x":29,"s":"4","y":15.8},{"x":30,"s":"4","y":14.6},
{"x":31,"s":"4","y":13.5},{"x":32,"s":"4","y":12.6},{"x":33,"s":"4","y":11.7},{"x":34,"s":"4","y":10.9},{"x":35,"s":"4","y":10.2},{"x":36,"s":"4","y":9.5},{"x":37,"s":"4","y":8.9},{"x":38,"s":"4","y":8.3},{"x":39,"s":"4","y":7.8},{"x":40,"s":"4","y":7.3},
{"x":41,"s":"4","y":6.7},{"x":42,"s":"4","y":6.2},{"x":43,"s":"4","y":5.7},{"x":44,"s":"4","y":5.1},{"x":45,"s":"4","y":4.6},{"x":46,"s":"4","y":4.1},{"x":47,"s":"4","y":3.6},{"x":48,"s":"4","y":3.0},{"x":49,"s":"4","y":2.4},{"x":50,"s":"4","y":1.9},
{"x":51,"s":"4","y":1.5},{"x":52,"s":"4","y":1.2},{"x":53,"s":"4","y":0.9},{"x":54,"s":"4","y":0.8},{"x":55,"s":"4","y":0.8},{"x":56,"s":"4","y":1.0},{"x":57,"s":"4","y":1.5},{"x":58,"s":"4","y":2.2},{"x":59,"s":"4","y":2.9},{"x":60,"s":"4","y":3.6},
{"x":61,"s":"4","y":4.2},{"x":62,"s":"4","y":4.8},{"x":63,"s":"4","y":5.3},{"x":64,"s":"4","y":5.8},{"x":65,"s":"4","y":6.2},{"x":66,"s":"4","y":6.6},{"x":67,"s":"4","y":6.9},{"x":68,"s":"4","y":7.2},{"x":69,"s":"4","y":7.4},{"x":70,"s":"4","y":7.6},
{"x":71,"s":"4","y":7.7},{"x":72,"s":"4","y":7.8},{"x":73,"s":"4","y":7.9},{"x":74,"s":"4","y":8.0},{"x":75,"s":"4","y":8.1},{"x":76,"s":"4","y":8.1},{"x":77,"s":"4","y":8.2},{"x":78,"s":"4","y":8.2},{"x":79,"s":"4","y":8.3},{"x":80,"s":"4","y":8.3},
{"x":81,"s":"4","y":8.3},{"x":82,"s":"4","y":8.4},{"x":83,"s":"4","y":8.4},{"x":84,"s":"4","y":8.4},{"x":85,"s":"4","y":8.4},{"x":86,"s":"4","y":8.4},{"x":87,"s":"4","y":8.4},{"x":88,"s":"4","y":8.4},{"x":89,"s":"4","y":8.3},{"x":90,"s":"4","y":8.2},
{"x":1,"s":"5","y":1.0},{"x":2,"s":"5","y":1.3},{"x":3,"s":"5","y":1.9},{"x":4,"s":"5","y":3.0},{"x":5,"s":"5","y":5.0},{"x":6,"s":"5","y":8.3},{"x":7,"s":"5","y":13},{"x":8,"s":"5","y":19.3},{"x":9,"s":"5","y":27},{"x":10,"s":"5","y":36},
{"x":11,"s":"5","y":46},{"x":12,"s":"5","y":55},{"x":13,"s":"5","y":62.5},{"x":14,"s":"5","y":67.5},{"x":15,"s":"5","y":70.8},{"x":16,"s":"5","y":72.5},{"x":17,"s":"5","y":72.3},{"x":18,"s":"5","y":70.5},{"x":19,"s":"5","y":67.8},{"x":20,"s":"5","y":64},
{"x":21,"s":"5","y":59.5},{"x":22,"s":"5","y":55},{"x":23,"s":"5","y":50.5},{"x":24,"s":"5","y":46.3},{"x":25,"s":"5","y":42.5},{"x":26,"s":"5","y":39.1},{"x":27,"s":"5","y":36},{"x":28,"s":"5","y":33.3},{"x":29,"s":"5","y":30.8},{"x":30,"s":"5","y":28.5},
{"x":31,"s":"5","y":26.4},{"x":32,"s":"5","y":24.4},{"x":33,"s":"5","y":22.6},{"x":34,"s":"5","y":21.0},{"x":35,"s":"5","y":19.5},{"x":36,"s":"5","y":18.1},{"x":37,"s":"5","y":16.8},{"x":38,"s":"5","y":15.6},{"x":39,"s":"5","y":14.5},{"x":40,"s":"5","y":13.5},
{"x":41,"s":"5","y":12.5},{"x":42,"s":"5","y":11.6},{"x":43,"s":"5","y":10.7},{"x":44,"s":"5","y":9.8},{"x":45,"s":"5","y":8.9},{"x":46,"s":"5","y":8.0},{"x":47,"s":"5","y":7.0},{"x":48,"s":"5","y":6.0},{"x":49,"s":"5","y":4.9},{"x":50,"s":"5","y":3.8},
{"x":51,"s":"5","y":2.8},{"x":52,"s":"5","y":2.0},{"x":53,"s":"5","y":1.3},{"x":54,"s":"5","y":0.9},{"x":55,"s":"5","y":0.7},{"x":56,"s":"5","y":1.0},{"x":57,"s":"5","y":1.7},{"x":58,"s":"5","y":2.6},{"x":59,"s":"5","y":3.6},{"x":60,"s":"5","y":4.6},
{"x":61,"s":"5","y":5.5},{"x":62,"s":"5","y":6.4},{"x":63,"s":"5","y":7.2},{"x":64,"s":"5","y":7.9},{"x":65,"s":"5","y":8.5},{"x":66,"s":"5","y":9.0},{"x":67,"s":"5","y":9.5},{"x":68,"s":"5","y":9.9},{"x":69,"s":"5","y":10.2},{"x":70,"s":"5","y":10.5},
{"x":71,"s":"5","y":10.7},{"x":72,"s":"5","y":10.9},{"x":73,"s":"5","y":11.1},{"x":74,"s":"5","y":11.2},{"x":75,"s":"5","y":11.3},{"x":76,"s":"5","y":11.4},{"x":77,"s":"5","y":11.5},{"x":78,"s":"5","y":11.5},{"x":79,"s":"5","y":11.6},{"x":80,"s":"5","y":11.6},
{"x":81,"s":"5","y":11.6},{"x":82,"s":"5","y":11.7},{"x":83,"s":"5","y":11.7},{"x":84,"s":"5","y":11.7},{"x":85,"s":"5","y":11.7},{"x":86,"s":"5","y":11.7},{"x":87,"s":"5","y":11.6},{"x":88,"s":"5","y":11.6},{"x":89,"s":"5","y":11.5},{"x":90,"s":"5","y":11.3},
{"x":1,"s":"6","y":1.0},{"x":2,"s":"6","y":1.3},{"x":3,"s":"6","y":1.9},{"x":4,"s":"6","y":3.0},{"x":5,"s":"6","y":5.0},{"x":6,"s":"6","y":8.3},{"x":7,"s":"6","y":13},{"x":8,"s":"6","y":19.5},{"x":9,"s":"6","y":27.5},{"x":10,"s":"6","y":37.5},
{"x":11,"s":"6","y":50},{"x":12,"s":"6","y":62},{"x":13,"s":"6","y":74},{"x":14,"s":"6","y":84.5},{"x":15,"s":"6","y":91},{"x":16,"s":"6","y":94.5},{"x":17,"s":"6","y":95.8},{"x":18,"s":"6","y":95.5},{"x":19,"s":"6","y":94},{"x":20,"s":"6","y":91.5},
{"x":21,"s":"6","y":88},{"x":22,"s":"6","y":84},{"x":23,"s":"6","y":79.5},{"x":24,"s":"6","y":74.8},{"x":25,"s":"6","y":70},{"x":26,"s":"6","y":65.5},{"x":27,"s":"6","y":61.2},{"x":28,"s":"6","y":57.2},{"x":29,"s":"6","y":53.4},{"x":30,"s":"6","y":49.8},
{"x":31,"s":"6","y":46.4},{"x":32,"s":"6","y":43.2},{"x":33,"s":"6","y":40.2},{"x":34,"s":"6","y":37.5},{"x":35,"s":"6","y":35.0},{"x":36,"s":"6","y":32.6},{"x":37,"s":"6","y":30.4},{"x":38,"s":"6","y":28.3},{"x":39,"s":"6","y":26.3},{"x":40,"s":"6","y":24.5},
{"x":41,"s":"6","y":22.8},{"x":42,"s":"6","y":21.2},{"x":43,"s":"6","y":19.6},{"x":44,"s":"6","y":18.0},{"x":45,"s":"6","y":16.4},{"x":46,"s":"6","y":14.8},{"x":47,"s":"6","y":13.2},{"x":48,"s":"6","y":11.5},{"x":49,"s":"6","y":9.7},{"x":50,"s":"6","y":7.9},
{"x":51,"s":"6","y":6.0},{"x":52,"s":"6","y":4.2},{"x":53,"s":"6","y":2.6},{"x":54,"s":"6","y":1.4},{"x":55,"s":"6","y":0.8},{"x":56,"s":"6","y":1.1},{"x":57,"s":"6","y":2.0},{"x":58,"s":"6","y":3.3},{"x":59,"s":"6","y":4.7},{"x":60,"s":"6","y":6.1},
{"x":61,"s":"6","y":7.4},{"x":62,"s":"6","y":8.6},{"x":63,"s":"6","y":9.7},{"x":64,"s":"6","y":10.6},{"x":65,"s":"6","y":11.4},{"x":66,"s":"6","y":12.1},{"x":67,"s":"6","y":12.7},{"x":68,"s":"6","y":13.2},{"x":69,"s":"6","y":13.6},{"x":70,"s":"6","y":14.0},
{"x":71,"s":"6","y":14.3},{"x":72,"s":"6","y":14.6},{"x":73,"s":"6","y":14.8},{"x":74,"s":"6","y":15.0},{"x":75,"s":"6","y":15.1},{"x":76,"s":"6","y":15.2},{"x":77,"s":"6","y":15.3},{"x":78,"s":"6","y":15.4},{"x":79,"s":"6","y":15.5},{"x":80,"s":"6","y":15.5},
{"x":81,"s":"6","y":15.6},{"x":82,"s":"6","y":15.6},{"x":83,"s":"6","y":15.6},{"x":84,"s":"6","y":15.6},{"x":85,"s":"6","y":15.6},{"x":86,"s":"6","y":15.6},{"x":87,"s":"6","y":15.5},{"x":88,"s":"6","y":15.5},{"x":89,"s":"6","y":15.4},{"x":90,"s":"6","y":15.2},
{"x":1,"s":"7","y":1.0},{"x":2,"s":"7","y":1.3},{"x":3,"s":"7","y":1.9},{"x":4,"s":"7","y":3.0},{"x":5,"s":"7","y":5.0},{"x":6,"s":"7","y":8.4},{"x":7,"s":"7","y":13.2},{"x":8,"s":"7","y":19.8},{"x":9,"s":"7","y":27.8},{"x":10,"s":"7","y":38.3},
{"x":11,"s":"7","y":51},{"x":12,"s":"7","y":65},{"x":13,"s":"7","y":79},{"x":14,"s":"7","y":92},{"x":15,"s":"7","y":103},{"x":16,"s":"7","y":111},{"x":17,"s":"7","y":116.5},{"x":18,"s":"7","y":119.5},{"x":19,"s":"7","y":120.2},{"x":20,"s":"7","y":118.5},
{"x":21,"s":"7","y":115},{"x":22,"s":"7","y":110.5},{"x":23,"s":"7","y":105},{"x":24,"s":"7","y":99.5},{"x":25,"s":"7","y":93.5},{"x":26,"s":"7","y":87.5},{"x":27,"s":"7","y":82},{"x":28,"s":"7","y":76.5},{"x":29,"s":"7","y":71.5},{"x":30,"s":"7","y":66.5},
{"x":31,"s":"7","y":62},{"x":32,"s":"7","y":57.5},{"x":33,"s":"7","y":53.5},{"x":34,"s":"7","y":49.5},{"x":35,"s":"7","y":46},{"x":36,"s":"7","y":42.5},{"x":37,"s":"7","y":39.2},{"x":38,"s":"7","y":36},{"x":39,"s":"7","y":33},{"x":40,"s":"7","y":30.2},
{"x":41,"s":"7","y":27.5},{"x":42,"s":"7","y":25},{"x":43,"s":"7","y":22.6},{"x":44,"s":"7","y":20.3},{"x":45,"s":"7","y":18.1},{"x":46,"s":"7","y":15.9},{"x":47,"s":"7","y":13.8},{"x":48,"s":"7","y":11.7},{"x":49,"s":"7","y":9.6},{"x":50,"s":"7","y":7.5},
{"x":51,"s":"7","y":5.5},{"x":52,"s":"7","y":3.6},{"x":53,"s":"7","y":2.0},{"x":54,"s":"7","y":1.0},{"x":55,"s":"7","y":0.7},{"x":56,"s":"7","y":1.1},{"x":57,"s":"7","y":2.3},{"x":58,"s":"7","y":4.0},{"x":59,"s":"7","y":5.9},{"x":60,"s":"7","y":7.8},
{"x":61,"s":"7","y":9.6},{"x":62,"s":"7","y":11.2},{"x":63,"s":"7","y":12.7},{"x":64,"s":"7","y":14.0},{"x":65,"s":"7","y":15.2},{"x":66,"s":"7","y":16.2},{"x":67,"s":"7","y":17.1},{"x":68,"s":"7","y":17.9},{"x":69,"s":"7","y":18.6},{"x":70,"s":"7","y":19.2},
{"x":71,"s":"7","y":19.7},{"x":72,"s":"7","y":20.1},{"x":73,"s":"7","y":20.5},{"x":74,"s":"7","y":20.8},{"x":75,"s":"7","y":21.1},{"x":76,"s":"7","y":21.3},{"x":77,"s":"7","y":21.5},{"x":78,"s":"7","y":21.7},{"x":79,"s":"7","y":21.8},{"x":80,"s":"7","y":21.9},
{"x":81,"s":"7","y":22.0},{"x":82,"s":"7","y":22.0},{"x":83,"s":"7","y":22.1},{"x":84,"s":"7","y":22.1},{"x":85,"s":"7","y":22.1},{"x":86,"s":"7","y":22.1},{"x":87,"s":"7","y":22.0},{"x":88,"s":"7","y":21.9},{"x":89,"s":"7","y":21.6},{"x":90,"s":"7","y":21.0}
]
},
"hconcat":[
{
 "width":549,"height":408,
 "data":{"name":"a"},
 "title":{"text":"(a)","orient":"bottom","offset":10},
 "encoding":{
  "x":{"field":"x","type":"quantitative","scale":{"domain":[-5,95],"nice":false,"zero":false},
       "axis":{"title":"Fiber-Winding Angle (Degree)","titleFontSize":25,"titlePadding":18,
               "values":[0,7.5,15,22.5,30,37.5,45,52.5,60,67.5,75,82.5,90],
               "labelExpr":"datum.value % 15 == 0 ? toString(datum.value) : ''",
               "tickSize":{"condition":{"test":"datum.value % 15 == 0","value":-10},"value":-5},
               "labelPadding":12}},
  "y":{"field":"y","type":"quantitative","scale":{"domain":[-1.06,5],"nice":false,"zero":false},
       "axis":{"title":"Modulus log(Mpa)","titleFontSize":27,"titlePadding":14,
               "values":[-1,-0.5,0,0.5,1,1.5,2,2.5,3,3.5,4,4.5,5],
               "labelExpr":"datum.value % 1 == 0 ? toString(datum.value) : ''",
               "tickSize":{"condition":{"test":"datum.value % 1 == 0","value":-10},"value":-5},
               "labelPadding":20}}
 },
 "layer":[
  {"mark":{"type":"line","strokeWidth":1.5},
   "encoding":{
    "stroke":{"field":"s","type":"nominal",
              "scale":{"domain":["o7","o6","o5","o4","o3","c7","c6","c5","c4","c3"],
                       "range":["#7b3d62","#3b3b6e","#8b7d3a","#fff200","#ec008c","#00aeef","#2e3192","#00a651","#ee1c25","#000000"]},
              "legend":null}}},
  {"mark":{"type":"point","filled":true,"size":70,"opacity":1,"strokeWidth":0},
   "encoding":{
    "shape":{"field":"s","type":"nominal",
             "scale":{"domain":["o3","o4","o5","o6","o7","c3","c4","c5","c6","c7"],
                      "range":["triangle-left","triangle-left","triangle-left","triangle-left","triangle-left","triangle-right","triangle-right","triangle-right","triangle-right","triangle-right"]},
             "legend":null},
    "color":{"field":"s","type":"nominal",
             "scale":{"domain":["c3","c4","c5","c6","c7","o3","o4","o5","o6","o7"],
                      "range":["#000000","#ee1c25","#00a651","#2e3192","#00aeef","#ec008c","#fff200","#8b7d3a","#3b3b6e","#7b3d62"]},
             "legend":{"orient":"none","legendX":310,"legendY":12,"title":null,
                       "labelExpr":"'t₁=' + substring(datum.value,1) + 'mm (' + (substring(datum.value,0,1) == 'c' ? 'Closed' : 'Open') + '-Valve)'",
                       "labelFont":"Liberation Sans","labelFontSize":15,"labelColor":"black",
                       "symbolSize":100,"symbolStrokeWidth":0,"rowPadding":4.4,"padding":12,"symbolOffset":17,"labelOffset":24,
                       "strokeColor":"#444444","fillColor":"white","symbolOpacity":1,
                       "encode":{"legend":{"update":{"strokeWidth":{"value":1.5}}},
                                 "symbols":{"update":{"shape":{"signal":"substring(datum.value,0,1) == 'o' ? 'M-4,-0.3L4,-0.3L4,0.3L-4,0.3Z M0.7,-0.8L-0.7,0L0.7,0.8Z' : 'M-4,-0.3L4,-0.3L4,0.3L-4,0.3Z M-0.7,-0.8L0.7,0L-0.7,0.8Z'"}}}}}}
   }}
 ]
},
{
 "width":549,"height":408,
 "data":{"name":"b"},
 "title":{"text":"(b)","orient":"bottom","offset":10},
 "encoding":{
  "x":{"field":"x","type":"quantitative","scale":{"domain":[-5,95],"nice":false,"zero":false},
       "axis":{"title":"Fiber-Winding Angle (Degree)","titleFontSize":25,"titlePadding":18,
               "values":[0,7.5,15,22.5,30,37.5,45,52.5,60,67.5,75,82.5,90],
               "labelExpr":"datum.value % 15 == 0 ? toString(datum.value) : ''",
               "tickSize":{"condition":{"test":"datum.value % 15 == 0","value":-10},"value":-5},
               "labelPadding":12}},
  "y":{"field":"y","type":"quantitative","scale":{"domain":[-11,130],"nice":false,"zero":false},
       "axis":{"title":"Modulus Ratio","titleFontSize":27,"titlePadding":15,
               "values":[0,10,20,30,40,50,60,70,80,90,100,110,120],
               "labelExpr":"datum.value % 20 == 0 ? toString(datum.value) : ''",
               "tickSize":{"condition":{"test":"datum.value % 20 == 0","value":-10},"value":-5},
               "labelPadding":21}}
 },
 "layer":[
  {"mark":{"type":"line","strokeWidth":1.5},
   "encoding":{
    "stroke":{"field":"s","type":"nominal",
              "scale":{"domain":["7","6","5","4","3"],"range":["#00aeef","#2e3192","#00a651","#ed1c24","#000000"]},
              "legend":null}}},
  {"mark":{"type":"point","filled":true,"size":115,"opacity":1,"strokeWidth":0,"shape":"triangle-up"},
   "encoding":{
    "color":{"field":"s","type":"nominal",
             "scale":{"domain":["3","4","5","6","7"],"range":["#000000","#ed1c24","#00a651","#2e3192","#00aeef"]},
             "legend":{"orient":"none","legendX":380,"legendY":11,"title":null,
                       "labelExpr":"'t₁=' + datum.value + 'mm'",
                       "labelFont":"Liberation Sans","labelFontSize":20,"labelColor":"black",
                       "symbolSize":100,"symbolStrokeWidth":0,"rowPadding":6.8,"padding":9,"symbolOffset":17,"labelOffset":32,
                       "strokeColor":"#444444","fillColor":"white","symbolOpacity":1,
                       "encode":{"legend":{"update":{"strokeWidth":{"value":1.5}}},
                                 "symbols":{"update":{"shape":{"value":"M-5.2,-0.3L5.2,-0.3L5.2,0.3L-5.2,0.3Z M-1,0.3L0,-1.5L1,0.3Z"}}}}}}
   }}
 ]
}
]
}
